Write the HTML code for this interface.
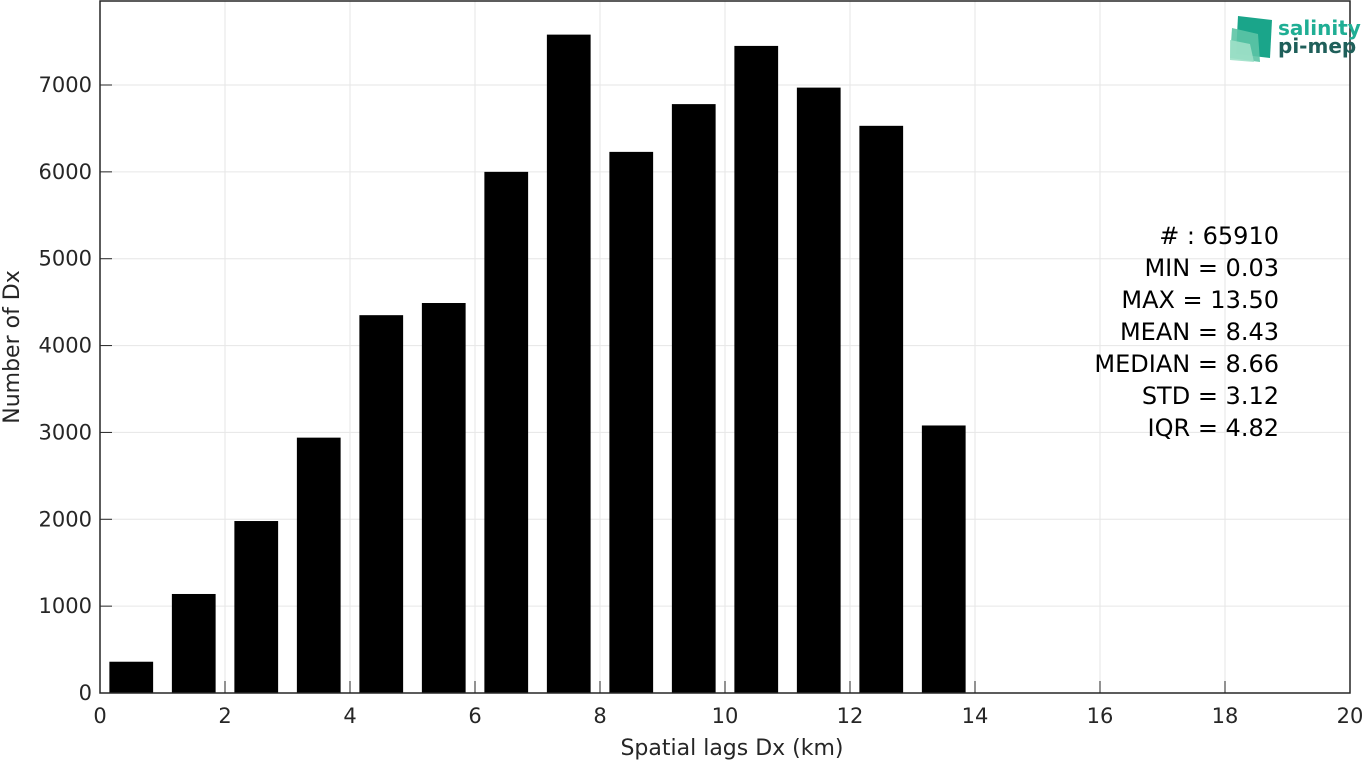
<!DOCTYPE html>
<html><head><meta charset="utf-8"><style>
body{margin:0;background:#fff;width:1365px;height:763px;overflow:hidden;font-family:"Liberation Sans","DejaVu Sans",sans-serif}
</style></head><body>
<svg id="chart" width="1365" height="763" xmlns="http://www.w3.org/2000/svg" font-family="DejaVu Sans, Liberation Sans, sans-serif">
<g id="grid"></g>
<g id="bars"></g>
<g id="axes"></g>
<text x="732" y="755" text-anchor="middle" font-size="22" fill="#262626">Spatial lags Dx (km)</text>
<text transform="translate(19,347) rotate(-90)" text-anchor="middle" font-size="22" fill="#262626">Number of Dx</text>
<g font-size="24" fill="#000" text-anchor="end">
<text x="1279" y="244">#  : 65910</text>
<text x="1279" y="276">MIN = 0.03</text>
<text x="1279" y="308">MAX =  13.50</text>
<text x="1279" y="340">MEAN = 8.43</text>
<text x="1279" y="372">MEDIAN = 8.66</text>
<text x="1279" y="404">STD = 3.12</text>
<text x="1279" y="436">IQR = 4.82</text>
</g>
<g>
<polygon points="1238,16 1272,20 1270,58 1236,54" fill="#1aa58a"/>
<polygon points="1232,28 1258,34 1260,62 1230,58" fill="#5cc4a5" opacity="0.9"/>
<polygon points="1230,40 1250,44 1254,62 1230,60" fill="#9fe0c8" opacity="0.9"/>
<text x="1278" y="35" font-size="20" font-weight="bold" fill="#1fae94">salinity</text>
<text x="1278" y="53" font-size="20" font-weight="bold" fill="#1f5f5a">pi-mep</text>
</g>
</svg>
<script>
const binCenters=[0.5,1.5,2.5,3.5,4.5,5.5,6.5,7.5,8.5,9.5,10.5,11.5,12.5,13.5];
const counts=[360,1140,1980,2940,4350,4490,6000,7580,6230,6780,7450,6970,6530,3080];
const xTicks=[0,2,4,6,8,10,12,14,16,18,20];
const yTicks=[0,1000,2000,3000,4000,5000,6000,7000];
const X0=100,X1=1350,Y0=693,YTOP=1;
const xs=v=>X0+v*(X1-X0)/20;
const ys=v=>Y0-v*(Y0-85)/7000;
const NS='http://www.w3.org/2000/svg';
function mk(t,a,p){const e=document.createElementNS(NS,t);for(const k in a)e.setAttribute(k,a[k]);p.appendChild(e);return e;}
const grid=document.getElementById('grid'),bars=document.getElementById('bars'),axes=document.getElementById('axes');
xTicks.forEach(t=>{
  const l=mk('line',{x1:xs(t),x2:xs(t),y1:YTOP,y2:Y0,stroke:'#e6e6e6','stroke-width':1},grid);
  
  
  const tk=mk('line',{x1:xs(t),x2:xs(t),y1:Y0,y2:Y0-12,stroke:'#262626'},axes);
  
  
  const tx=mk('text',{x:xs(t),y:Y0+30,'text-anchor':'middle','font-size':21,fill:'#262626'},axes);
  tx.textContent=t;
  
  
});
yTicks.forEach(t=>{
  const l=mk('line',{x1:X0,x2:X1,y1:ys(t),y2:ys(t),stroke:'#e6e6e6','stroke-width':1},grid);
  
  
  const tk=mk('line',{x1:X0,x2:X0+12,y1:ys(t),y2:ys(t),stroke:'#262626'},axes);
  
  
  const tx=mk('text',{x:X0-8,y:ys(t)+7,'text-anchor':'end','font-size':21,fill:'#262626'},axes);
  tx.textContent=t;
  
  
});
binCenters.forEach((c,i)=>{
  const w=0.7;
  const r=mk('rect',{x:xs(c-w/2),y:ys(counts[i]),width:xs(w)-xs(0),height:Y0-ys(counts[i]),fill:'#000'},bars);
  
  
});
const box=mk('rect',{x:X0,y:YTOP,width:X1-X0,height:Y0-YTOP,fill:'none',stroke:'#262626','stroke-width':1.5},axes);


</script>
</body></html>
